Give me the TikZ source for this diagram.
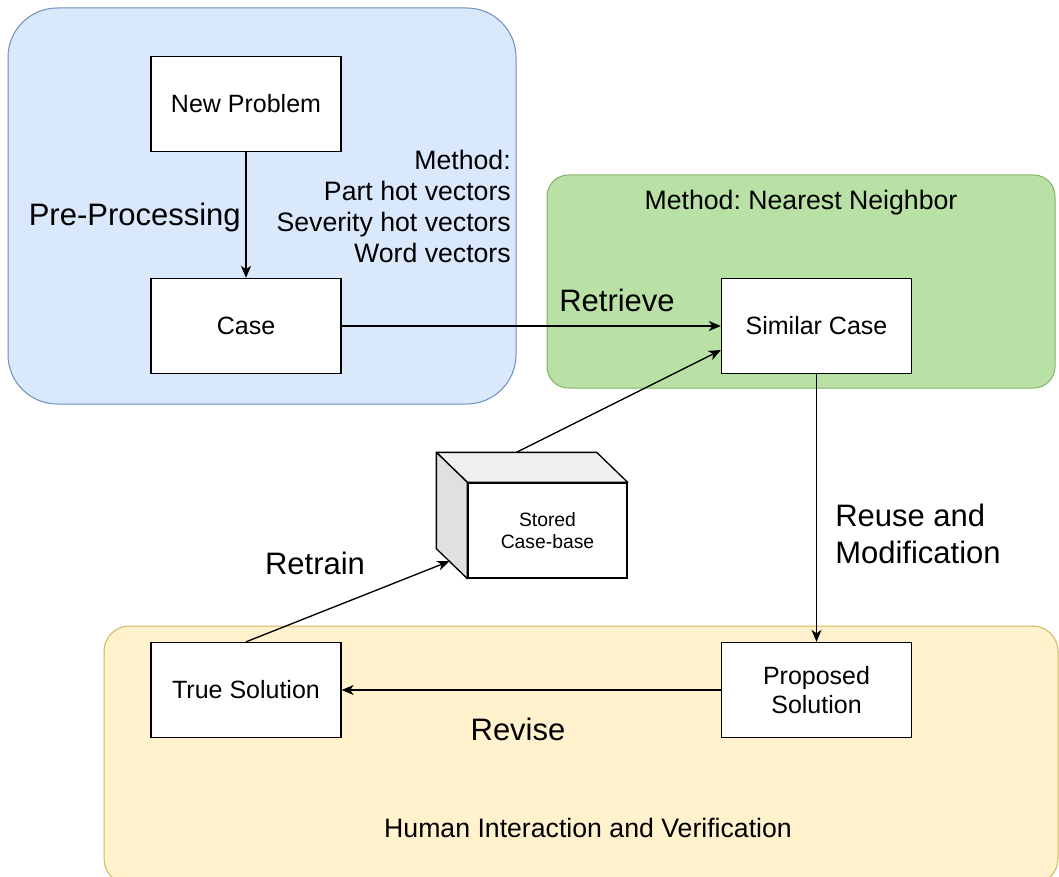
\documentclass[tikz,border=0pt]{standalone}
\usepackage{fontspec}
\setmainfont{Liberation Sans}
\usetikzlibrary{arrows.meta,calc}

\definecolor{blueFill}{HTML}{DAE8FC}
\definecolor{blueLine}{HTML}{6C8EBF}
\definecolor{greenFill}{HTML}{B9E0A5}
\definecolor{greenLine}{HTML}{82B366}
\definecolor{yellowFill}{HTML}{FFF2CC}
\definecolor{yellowLine}{HTML}{D6B656}
\definecolor{cubeTop}{HTML}{F0F0F0}
\definecolor{cubeSide}{HTML}{E0E0E0}

\frenchspacing

\begin{document}
\begin{tikzpicture}[x=0.75pt,y=-0.75pt,
  box/.style={draw=black, line width=1pt, fill=white, minimum width=142.5pt,
    minimum height=71.25pt, inner sep=0pt, align=center,
    font=\fontsize{18.75}{22}\selectfont},
  flow/.style={draw=black, line width=1pt,
    -{Stealth[length=9pt,width=7.5pt,inset=2.6pt]}},
  big/.style={inner sep=0pt, font=\fontsize{23.25}{27.75}\selectfont},
  mid/.style={inner sep=0pt, font=\fontsize{20}{23.25}\selectfont},
  region/.style={line width=0.75pt}]

\useasboundingbox (0,0) rectangle (1059,877);

% coloured phase regions
\begin{scope}
  \clip (0,0) rectangle (1059,877);
  \filldraw[region, fill=blueFill, draw=blueLine, rounded corners=37pt]
    (8,8) rectangle (516,404);
  \filldraw[region, fill=greenFill, draw=greenLine, rounded corners=16pt]
    (547,175) rectangle (1055,388);
  \filldraw[region, fill=yellowFill, draw=yellowLine, rounded corners=19pt]
    (104,626) rectangle (1058,884);
\end{scope}

% process boxes
\node[box] (np)   at (246,104)   {New Problem};
\node[box] (case) at (246,326)   {Case};
\node[box] (sim)  at (816.5,326) {Similar Case};
\node[box] (prop) at (816.5,690) {Proposed\\Solution};
\node[box] (true) at (246,690)   {True Solution};

% case-base cube: front face plus top and left faces
\node[draw=black, line width=1pt, fill=white, minimum width=119.25pt,
  minimum height=71.25pt, inner sep=0pt, align=center,
  font=\fontsize{14.5}{16.5}\selectfont] (store) at (547.5,530.5)
  {Stored\\Case-base};
\coordinate (bNW) at ($(store.north west)+(-31,-30)$);
\coordinate (bNE) at ($(store.north east)+(-31,-30)$);
\coordinate (bSW) at ($(store.south west)+(-31,-30)$);
\filldraw[line width=1pt, fill=cubeTop, line join=round]
  (bNW) -- (bNE) -- (store.north east) -- (store.north west) -- cycle;
\filldraw[line width=1pt, fill=cubeSide, line join=round]
  (bNW) -- (store.north west) -- (store.south west) -- (bSW) -- cycle;

% connectors
\draw[flow] (np) -- (case);
\draw[flow] (case) -- (sim);
\draw[flow] ($(bNW)!0.5!(bNE)$) -- ($(sim.south west)!0.25!(sim.north west)$);
\draw[flow] (sim) -- (prop);
\draw[flow] (prop) -- (true);
\draw[flow] (true.north) -- ($(bSW)!0.42!(store.south west)$);

% labels
\node[big, anchor=base east] (lpre) at (241,225) {Pre-Processing};
\node[mid, anchor=east, align=right] (lmeth) at (511,206.5)
  {Method:\\Part hot vectors\\Severity hot vectors\\Word vectors};
\node[big, anchor=base west] (lret) at (559,311) {Retrieve};
\node[mid, anchor=base] (lnn) at (801,210) {Method: Nearest Neighbor};
\node[big, anchor=west, align=left] (lreuse) at (835,533.5)
  {Reuse and\\Modification};
\node[big] (lretrain) at (315,563) {Retrain};
\node[big] (lrev) at (518,729) {Revise};
\node[mid] (lhuman) at (588,828) {Human Interaction and Verification};

\end{tikzpicture}
\end{document}
